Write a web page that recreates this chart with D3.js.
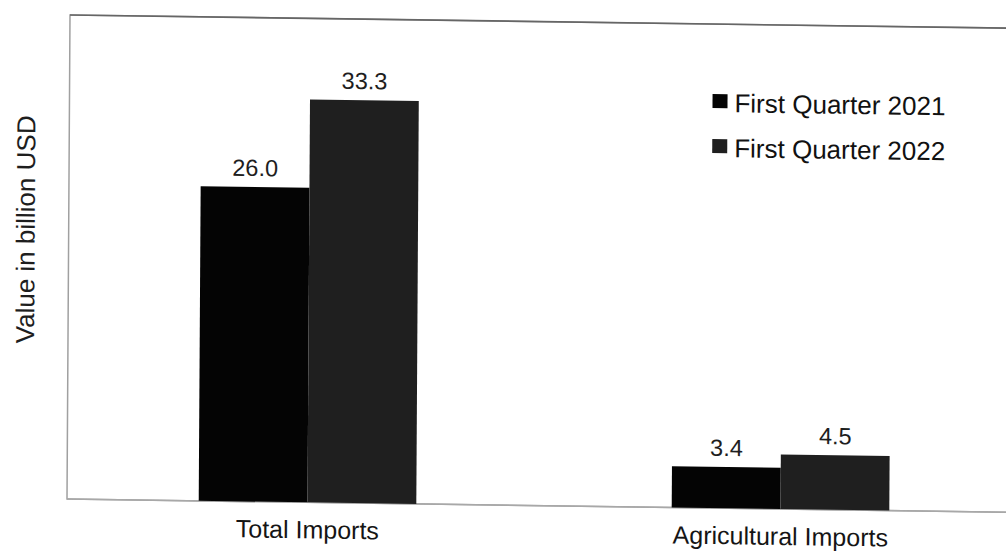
<!DOCTYPE html>
<html>
<head>
<meta charset="utf-8">
<script src="https://cdn.jsdelivr.net/npm/d3@7"></script>
<style>
  html, body { margin: 0; padding: 0; background: #fff; }
  svg { display: block; font-family: "Liberation Sans", Arial, sans-serif; }
</style>
</head>
<body>
<svg id="chart" width="1006" height="554"></svg>
<script>
// Import values, billion USD
const categories = ["Total Imports", "Agricultural Imports"];
const seriesNames = ["First Quarter 2021", "First Quarter 2022"];
const q1_2021 = [26.0, 3.4];
const q1_2022 = [33.3, 4.5];
const yDomain = [0, 40];

const colors = ["#040404", "#1f1f1f"];

const W = 1006, H = 554;
const plot = { left: 67, top: 15, right: 1017, bottom: 499 };

const svg = d3.select("#chart");

// The page is slightly skewed, like a scanned sheet; pivot at the plot's lower-left corner.
const sx = 0.014, sy = -0.0062;
const root = svg.append("g")
  .attr("transform", `matrix(1,${sx},${sy},1,${-sy * plot.bottom},${-sx * plot.left})`);

const rows = categories.map((c, i) => ({ category: c, values: [q1_2021[i], q1_2022[i]] }));

const x0 = d3.scaleBand()
  .domain(categories)
  .range([plot.left + 4, plot.right])
  .paddingInner(0.54)
  .paddingOuter(0.27);

const x1 = d3.scaleBand()
  .domain(d3.range(seriesNames.length))
  .range([0, x0.bandwidth()]);

const y = d3.scaleLinear().domain(yDomain).range([plot.bottom, plot.top]);

// plot frame
root.append("rect")
  .attr("x", plot.left).attr("y", plot.top)
  .attr("width", plot.right + 20 - plot.left).attr("height", plot.bottom - plot.top)
  .attr("fill", "none").attr("stroke", "#a0a0a0").attr("stroke-width", 1.5);
root.append("line")
  .attr("x1", plot.left).attr("x2", plot.right + 20)
  .attr("y1", plot.top).attr("y2", plot.top)
  .attr("stroke", "#666").attr("stroke-width", 1.6);

// category axis at the bottom
const xAxis = root.append("g")
  .attr("transform", `translate(0,${plot.bottom})`)
  .call(d3.axisBottom(x0).tickSize(0).tickPadding(0));
xAxis.select(".domain").attr("stroke", "#a8a8a8").attr("stroke-width", 1.5)
  .attr("d", `M${plot.left},0H${plot.right + 20}`);
xAxis.selectAll(".tick text")
  .attr("dy", 0).attr("y", 36)
  .attr("font-size", 25).attr("fill", "#151515")
  .attr("font-family", "'Liberation Sans', Arial, sans-serif");

// bars
const groups = root.selectAll("g.cat")
  .data(rows).join("g")
  .attr("class", "cat")
  .attr("transform", d => `translate(${x0(d.category)},0)`);

groups.selectAll("rect.bar")
  .data(d => d.values.map((v, i) => ({ v, i })))
  .join("rect")
  .attr("class", "bar")
  .attr("x", d => x1(d.i))
  .attr("width", x1.bandwidth())
  .attr("y", d => y(d.v))
  .attr("height", d => y(0) - y(d.v))
  .attr("fill", d => colors[d.i]);

// value labels
groups.selectAll("text.val")
  .data(d => d.values.map((v, i) => ({ v, i })))
  .join("text")
  .attr("class", "val")
  .attr("x", d => x1(d.i) + x1.bandwidth() / 2)
  .attr("y", d => y(d.v) - 11)
  .attr("text-anchor", "middle")
  .attr("font-size", 23.5)
  .attr("fill", "#1e1e1e")
  .text(d => d3.format(".1f")(d.v));

// y axis title
root.append("text")
  .attr("transform", "translate(33,230) rotate(-90)")
  .attr("text-anchor", "middle")
  .attr("font-size", 26)
  .attr("fill", "#1e1e1e")
  .text("Value in billion USD");

// legend
const legend = root.append("g").attr("transform", "translate(710,85)");
const li = legend.selectAll("g").data(seriesNames).join("g")
  .attr("transform", (d, i) => `translate(0,${i * 45})`);
li.append("rect").attr("width", 15).attr("height", 14).attr("fill", (d, i) => colors[i]);
li.append("text").attr("x", 22).attr("y", 18)
  .attr("font-size", 26).attr("fill", "#111")
  .text(d => d);
</script>
</body>
</html>
